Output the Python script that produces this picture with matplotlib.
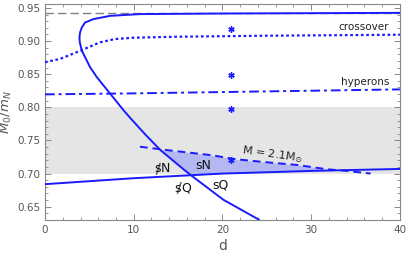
import numpy as np
import matplotlib
matplotlib.use("Agg")
import matplotlib.pyplot as plt
from matplotlib.ticker import MultipleLocator

plt.rcParams["mathtext.fontset"] = "dejavusans"

# solid C-shaped curve (upper branch -> turning point -> lower branch)
c_d = [40, 30, 20, 10.7, 7.34, 5.46, 4.52, 4.15, 3.95, 3.88, 3.92, 4.15, 4.52, 5.08, 5.84,
       6.59, 7.34, 8.1, 8.85, 9.6, 11.3, 13.0, 15.6, 16.4, 20.1, 24.1]
c_m = [0.9425, 0.942, 0.9415, 0.9406, 0.938, 0.933, 0.928, 0.9205, 0.913, 0.9055, 0.898,
       0.8855, 0.8755, 0.8605, 0.8455, 0.833, 0.8206, 0.808, 0.7955, 0.784, 0.759, 0.7355,
       0.7065, 0.698, 0.6605, 0.6305]

# crossover (dotted)
cr_d = [0, 1.7, 4, 6.2, 7.9, 10, 15, 25, 40]
cr_m = [0.868, 0.873, 0.8855, 0.898, 0.903, 0.905, 0.9065, 0.908, 0.9095]

# hyperons (dash-dot)
hy_d = [0, 10, 20, 30, 40]
hy_m = [0.8195, 0.821, 0.823, 0.825, 0.827]

# lower solid line
lo_d = [0, 10, 20, 30, 40]
lo_m = [0.684, 0.693, 0.700, 0.704, 0.707]

# M = 2.1 Msun (dashed)
ms_d = [10.7, 14, 18.6, 21.6, 25, 28.4, 31.8, 34, 36.7]
ms_m = [0.7405, 0.735, 0.728, 0.7215, 0.717, 0.713, 0.7065, 0.704, 0.700]

# stars
st_d = [21, 21, 21, 21]
st_m = [0.918, 0.848, 0.798, 0.720]

band = (0.70, 0.80)
asym = 0.943

blue = "#1a1aff"

fig = plt.figure(figsize=(4.07, 2.6), dpi=100)
ax = fig.add_axes([0.1106, 0.154, 0.872, 0.831])

ax.axhspan(band[0], band[1], color="#e5e5e5", lw=0, zorder=0)
ax.axhline(asym, color="#808080", ls=(0, (6, 3)), lw=1.0, zorder=1)

# shaded sN region
dd = np.linspace(12.9, 34, 300)
lower_c_d = np.array(c_d[13:])
lower_c_m = np.array(c_m[13:])
top = np.interp(dd, ms_d, ms_m)
bot = np.maximum(np.interp(dd, lower_c_d, lower_c_m, right=0), np.interp(dd, lo_d, lo_m))
ax.fill_between(dd, bot, top, where=top >= bot, color="#b4b8f2", lw=0, zorder=1)

ax.plot(c_d, c_m, color=blue, lw=1.4, zorder=3)
ax.plot(cr_d, cr_m, color=blue, lw=1.6, ls=(0, (1.2, 1.2)), zorder=3)
ax.plot(hy_d, hy_m, color=blue, lw=1.4, ls=(0, (5, 2, 1.5, 2)), zorder=3)
ax.plot(lo_d, lo_m, color=blue, lw=1.4, zorder=3)
ax.plot(ms_d, ms_m, color=blue, lw=1.4, ls=(0, (4, 2.5)), zorder=3)
ax.plot(st_d, st_m, ls="none", marker=(6, 2, 0), ms=4.5, mew=1.0, color=blue, zorder=4)

ax.text(38.8, 0.913, "crossover", fontsize=7.5, ha="right", va="bottom", color="#222222")
ax.text(38.8, 0.831, "hyperons", fontsize=7.5, ha="right", va="bottom", color="#222222")
ax.text(25.6, 0.729, r"M = 2.1M$_{\odot}$", fontsize=8, ha="center", va="center",
        rotation=-8, color="#222222")


def slashed(x, y, second):
    # "s" with a stroke through it, followed by N or Q
    kw = dict(textcoords="offset points", fontsize=9, va="center", ha="center",
              color="#111111")
    ax.annotate("s", (x, y), xytext=(-3.4, 0), **kw)
    ax.annotate(second, (x, y), xytext=(2.4, 0), **kw)
    ax.annotate("|", (x, y), xytext=(-3.2, 0.2), rotation=-18, textcoords="offset points",
                fontsize=9, va="center", ha="center", color="#111111")


slashed(13.2, 0.707, "N")
slashed(15.5, 0.678, "Q")
ax.text(17.8, 0.712, "sN", fontsize=9, ha="center", va="center", color="#111111")
ax.text(19.8, 0.683, "sQ", fontsize=9, ha="center", va="center", color="#111111")

ax.set_xlim(0, 40)
ax.set_ylim(0.63, 0.956)
ax.set_xticks([0, 10, 20, 30, 40])
ax.set_yticks([0.65, 0.70, 0.75, 0.80, 0.85, 0.90, 0.95])
ax.set_yticklabels(["0.65", "0.70", "0.75", "0.80", "0.85", "0.90", "0.95"])
ax.xaxis.set_minor_locator(MultipleLocator(2))
ax.yaxis.set_minor_locator(MultipleLocator(0.01))
ax.tick_params(which="both", direction="in", top=True, right=True, color="#888888",
               labelsize=7.5, labelcolor="#555555")
ax.tick_params(which="major", length=4, width=0.7)
ax.tick_params(which="minor", length=2, width=0.6)
for s in ax.spines.values():
    s.set_color("#888888")
    s.set_linewidth(0.8)

ax.set_xlabel("d", fontsize=10, color="#555555", labelpad=3)
ax.set_ylabel(r"$M_0/m_N$", fontsize=9.5, color="#555555", labelpad=2)

fig.savefig("out.png", dpi=100)
